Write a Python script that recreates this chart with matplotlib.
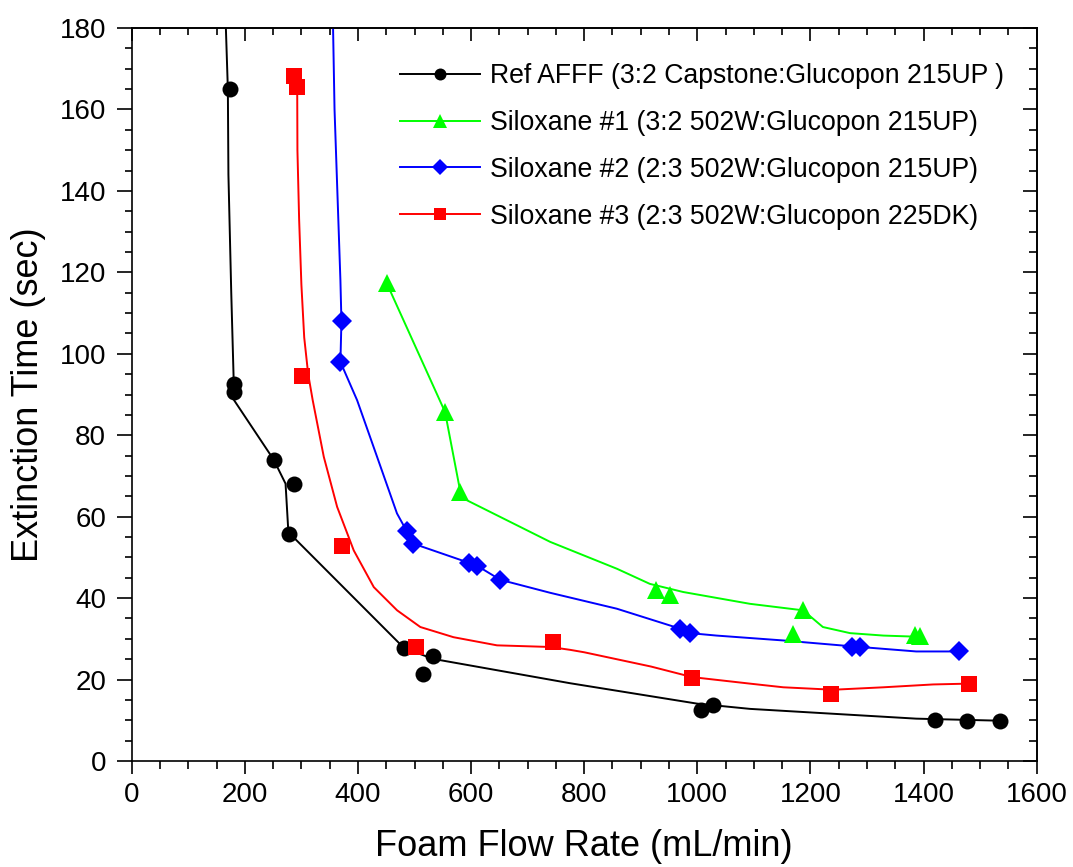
import matplotlib
matplotlib.use("Agg")
import matplotlib.pyplot as plt
from matplotlib.lines import Line2D
from matplotlib.ticker import MultipleLocator

plt.rcParams['font.family'] = ['Liberation Sans', 'DejaVu Sans']

# Measured points (foam flow rate in mL/min, extinction time in sec)
ref_x = [174, 180, 180, 251, 287, 278, 481, 532, 515, 1007, 1028, 1420, 1477, 1535]
ref_y = [165, 92.7, 90.6, 74, 68, 55.8, 27.8, 25.7, 21.3, 12.6, 13.8, 10.0, 9.7, 9.9]

s1_x = [451, 554, 581, 927, 952, 1187, 1170, 1384, 1393]
s1_y = [117.3, 85.7, 66.1, 42.1, 40.8, 37.2, 31.3, 30.9, 30.6]

s2_x = [371, 369, 486, 497, 596, 610, 652, 970, 987, 1273, 1287, 1463]
s2_y = [108, 98, 56.6, 53.4, 48.7, 48.0, 44.5, 32.5, 31.4, 28.1, 28.0, 26.9]

s3_x = [287, 293, 301, 371, 503, 745, 990, 1237, 1480]
s3_y = [168.2, 165.6, 94.5, 52.8, 28.0, 29.2, 20.3, 16.5, 19.0]

# Trend curves drawn through each series
ref_fit_x = [166.5, 170, 171, 176, 180.6, 181, 251, 272, 277, 481, 532, 775, 999, 1093, 1240, 1387, 1534]
ref_fit_y = [180, 165, 144, 115, 92, 88.6, 74, 68.1, 56.2, 27.8, 25.1, 19.1, 14.1, 12.8, 11.6, 10.4, 9.9]

s1_fit_x = [451, 554, 581, 593, 740, 858, 916, 975, 1093, 1187, 1222, 1270, 1329, 1393]
s1_fit_y = [117.3, 85.7, 66.1, 64.0, 53.8, 47.2, 43.5, 41.5, 38.6, 37.0, 32.9, 31.4, 30.8, 30.5]

s2_fit_x = [356, 358.6, 364.3, 369, 370.8, 369, 398.5, 433.8, 469, 485.6, 497.4, 595.6, 610, 651.6,
            740, 857.6, 969.5, 987, 1034, 1152, 1270, 1387, 1463]
s2_fit_y = [180, 160, 137, 118, 108, 98, 88.6, 74.7, 60.8, 56.6, 53.4, 48.7, 48.0, 44.5,
            41.3, 37.4, 32.5, 31.4, 30.8, 29.6, 28.2, 26.9, 26.9]

s3_fit_x = [292.6, 293, 296, 300, 305, 312, 320, 339.6, 363.2, 392.6, 428, 469.2, 510.3, 569, 645.8,
            740, 775, 800, 918, 991, 1093, 1152, 1240, 1329, 1417, 1480]
s3_fit_y = [165.6, 150, 133, 117, 104, 95, 88.6, 74.7, 62.4, 51.7, 42.7, 37.0, 32.9, 30.4, 28.4,
            28.0, 27.3, 26.7, 23.2, 20.6, 19.0, 18.1, 17.5, 18.1, 18.8, 19.0]

labels = [
    "Ref AFFF (3:2 Capstone:Glucopon 215UP )",
    "Siloxane #1 (3:2 502W:Glucopon 215UP)",
    "Siloxane #2 (2:3 502W:Glucopon 215UP)",
    "Siloxane #3 (2:3 502W:Glucopon 225DK)",
]

series = [
    (ref_x, ref_y, ref_fit_x, ref_fit_y, "#000000", "o", 11.5),
    (s1_x, s1_y, s1_fit_x, s1_fit_y, "#00ff00", "^", 13.5),
    (s2_x, s2_y, s2_fit_x, s2_fit_y, "#0000ff", "D", 10.5),
    (s3_x, s3_y, s3_fit_x, s3_fit_y, "#ff0000", "s", 11.0),
]

fig = plt.figure(figsize=(10.73, 8.67), dpi=100)
ax = fig.add_axes([131.7 / 1073, 1 - 761 / 867, 905 / 1073, 733 / 867])

handles = []
for mx, my, fx, fy, col, mk, ms in series:
    ax.plot(fx, fy, color=col, lw=1.4, zorder=2, clip_on=True)
    ax.plot(mx, my, linestyle="none", marker=mk, markersize=ms, color=col,
            markeredgewidth=0, zorder=3)
    handles.append(Line2D([], [], color=col, lw=1.4, marker=mk,
                          markersize=ms * 0.75, markeredgewidth=0))

ax.set_xlim(0, 1600)
ax.set_ylim(0, 180)

ax.xaxis.set_major_locator(MultipleLocator(200))
ax.xaxis.set_minor_locator(MultipleLocator(50))
ax.yaxis.set_major_locator(MultipleLocator(20))
ax.yaxis.set_minor_locator(MultipleLocator(5))

for sp in ax.spines.values():
    sp.set_linewidth(1.2)

ax.tick_params(axis='x', which='major', direction='out', length=9, width=1.2,
               labelsize=20, pad=6)
ax.tick_params(axis='x', which='minor', direction='out', length=5.5, width=1.2)
ax.tick_params(axis='y', which='major', direction='out', length=10.5, width=1.2,
               labelsize=20, pad=8)
ax.tick_params(axis='y', which='minor', direction='out', length=5, width=1.2)

# inward ticks on the top and right edges
top = ax.secondary_xaxis('top')
top.xaxis.set_major_locator(MultipleLocator(200))
top.xaxis.set_minor_locator(MultipleLocator(50))
top.tick_params(which='major', direction='in', length=9, width=1.2, labeltop=False)
top.tick_params(which='minor', direction='in', length=5, width=1.2)
top.spines['top'].set_linewidth(1.2)

right = ax.secondary_yaxis('right')
right.yaxis.set_major_locator(MultipleLocator(20))
right.yaxis.set_minor_locator(MultipleLocator(5))
right.tick_params(which='major', direction='in', length=10, width=1.2, labelright=False)
right.tick_params(which='minor', direction='in', length=5.5, width=1.2)
right.spines['right'].set_linewidth(1.2)

ax.set_xlabel("Foam Flow Rate (mL/min)", fontsize=26, labelpad=15)
ax.set_ylabel("Extinction Time (sec)", fontsize=26, labelpad=10)

ax.legend(handles, labels, loc='upper left', bbox_to_anchor=(0.297, 0.952),
          frameon=False, fontsize=19.2, handlelength=3.0, handletextpad=0.35,
          labelspacing=0.78, borderpad=0, borderaxespad=0)

fig.savefig("out.png", dpi=100)
